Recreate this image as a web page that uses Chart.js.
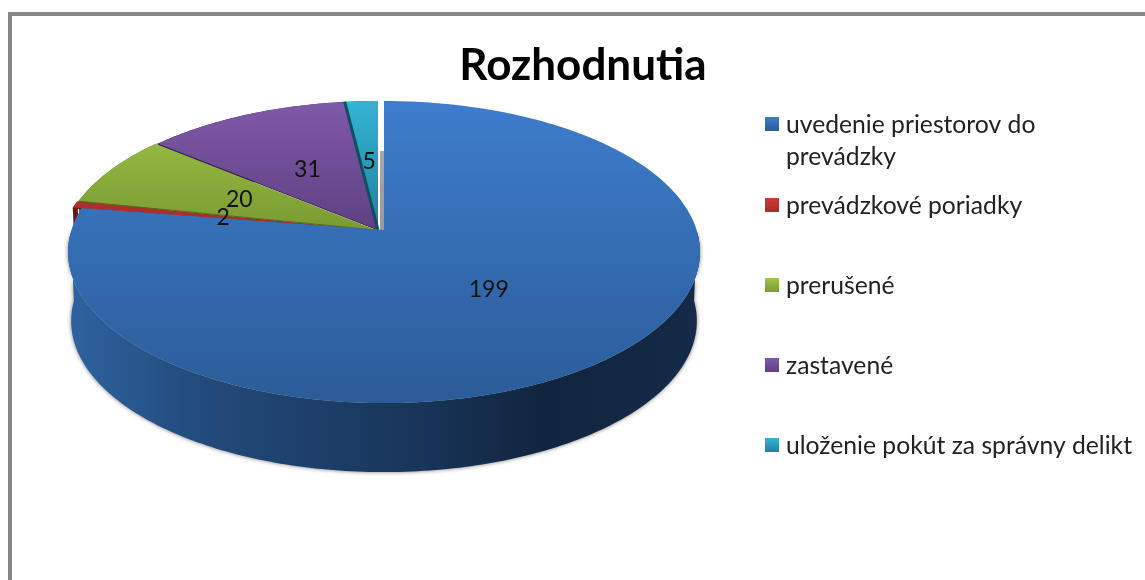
<!DOCTYPE html>
<html lang="sk">
<head>
    <meta charset="UTF-8">
    <title>Rozhodnutia</title>
    <script src="https://cdn.jsdelivr.net/npm/chart.js"></script>
    <style>
        html, body { margin: 0; padding: 0; background: #fff; overflow: hidden; width: 1145px; height: 580px; }
        .frame { position: absolute; left: 8px; top: 12px; width: 1200px; height: 700px; border: 4px solid #868686; }
        canvas { position: absolute; left: 0; top: 0; }
    </style>
</head>
<body>
    <div class="frame"></div>
    <canvas id="chart" width="1166" height="580"></canvas>

    <script>
        // Data
        const categories = [
            ['uvedenie priestorov do', 'prevádzky'],
            ['prevádzkové poriadky'],
            ['prerušené'],
            ['zastavené'],
            ['uloženie pokút za správny delikt']
        ];
        const values = [199, 2, 20, 31, 5];

        // Colours
        const topColors = ['#3e7dcc', '#cf3b39', '#a0c64b', '#8059aa', '#34b4d6'];
        const bottomColors = ['#2b5c98', '#a52c2a', '#7a9a30', '#5f4082', '#20809a'];
        const edgeColors = ['#1c3c66', '#6b1613', '#55691f', '#3a2650', '#0f4f60'];

        // Look of the tilted pie
        const pie = { cx: 381, cy: 230, rx: 312.6, ry: 147.8, k: -0.146, depth: 69 };
        const sliceShift = [3, -6, -5, -3, -3];
        const legendY = [125, 206, 286, 366, 446];
        const font = 'Lato, sans-serif';

        function project(a, r, dx) {
            const u = Math.cos(a) * r, v = Math.sin(a) * r;
            const w = 1 + pie.k * v;
            return { x: pie.cx + dx + pie.rx * u / w, y: pie.cy + pie.ry * v / w };
        }

        function vGradient(ctx, y0, y1, c0, c1) {
            const g = ctx.createLinearGradient(0, y0, 0, y1);
            g.addColorStop(0, c0);
            g.addColorStop(1, c1);
            return g;
        }

        function edgePoints(arc, dx) {
            const pts = [];
            const steps = Math.max(4, Math.ceil((arc.endAngle - arc.startAngle) * 60));
            for (let s = 0; s <= steps; s++) {
                pts.push(project(arc.startAngle + (arc.endAngle - arc.startAngle) * s / steps, 1, dx));
            }
            return pts;
        }

        // Draws the arcs Chart.js laid out as a tilted disc with a side wall
        const tiltedPie = {
            id: 'tiltedPie',
            beforeDatasetDraw(chart) {
                const ctx = chart.ctx;
                const arcs = chart.getDatasetMeta(0).data;
                const order = [1, 2, 3, 4, 0];

                // walls
                arcs.forEach((arc, i) => {
                    let pts = edgePoints(arc, sliceShift[i]);
                    ctx.save();
                    if (i === 0) {
                        // only the front half of the big slice shows
                        pts = pts.filter(p => p.y >= pie.cy);
                        ctx.shadowColor = 'rgba(60,60,60,0.7)';
                        ctx.shadowBlur = 4;
                        const g = ctx.createLinearGradient(70, 0, 700, 0);
                        g.addColorStop(0, '#2e629f');
                        g.addColorStop(0.2, '#234b7c');
                        g.addColorStop(0.55, '#183559');
                        g.addColorStop(0.75, '#11253f');
                        g.addColorStop(1, '#142a48');
                        ctx.fillStyle = g;
                    } else {
                        ctx.fillStyle = edgeColors[i];
                    }
                    ctx.beginPath();
                    pts.forEach((p, n) => n ? ctx.lineTo(p.x, p.y) : ctx.moveTo(p.x, p.y));
                    const mid = 384;
                    pts.slice().reverse().forEach(p => {
                        ctx.lineTo(mid + (p.x - mid) * 0.99, p.y + pie.depth);
                    });
                    ctx.closePath();
                    ctx.fill();
                    ctx.restore();
                });

                // grey strip beside the blue slice
                const stripTop = project(arcs[0].startAngle, 0.58, 0);
                ctx.fillStyle = vGradient(ctx, stripTop.y, pie.cy, '#a8a8a8', '#999999');
                ctx.fillRect(380, stripTop.y, 4, pie.cy + 1 - stripTop.y);

                // top faces
                order.forEach(i => {
                    const arc = arcs[i];
                    const dx = sliceShift[i];
                    const pts = edgePoints(arc, dx);
                    ctx.fillStyle = i === 0
                        ? vGradient(ctx, 100, 403, topColors[i], bottomColors[i])
                        : vGradient(ctx, 100, 232, topColors[i], bottomColors[i]);
                    ctx.beginPath();
                    ctx.moveTo(pie.cx + dx, pie.cy);
                    pts.forEach(p => ctx.lineTo(p.x, p.y));
                    ctx.closePath();
                    ctx.fill();

                    // cut edge on the start side
                    if (i > 0) {
                        ctx.strokeStyle = edgeColors[i];
                        ctx.lineWidth = i === 4 ? 3 : 1;
                        ctx.beginPath();
                        ctx.moveTo(pie.cx + dx, pie.cy);
                        ctx.lineTo(pts[0].x, pts[0].y);
                        ctx.stroke();
                    }
                });

                // values
                ctx.fillStyle = '#111';
                ctx.font = '23px ' + font;
                ctx.textAlign = 'center';
                ctx.textBaseline = 'middle';
                arcs.forEach((arc, i) => {
                    const p = project((arc.startAngle + arc.endAngle) / 2, 0.5, i ? sliceShift[i] : 0);
                    ctx.fillText(values[i], p.x, p.y);
                });
                return false;
            }
        };

        // Legend with the uneven rows of the original
        const sideLegend = {
            id: 'sideLegend',
            afterDraw(chart) {
                const ctx = chart.ctx;
                ctx.save();
                ctx.font = '24.7px ' + font;
                ctx.textAlign = 'left';
                ctx.textBaseline = 'middle';
                categories.forEach((lines, i) => {
                    const y = legendY[i];
                    ctx.fillStyle = vGradient(ctx, y - 8, y + 6, topColors[i], bottomColors[i]);
                    ctx.fillRect(765, y - 8, 14, 14);
                    ctx.fillStyle = '#222';
                    lines.forEach((line, n) => ctx.fillText(line, 786, y + n * 32));
                });
                ctx.restore();
            }
        };

        new Chart(document.getElementById('chart'), {
            type: 'pie',
            data: {
                labels: categories,
                datasets: [{ data: values, backgroundColor: topColors, borderWidth: 0 }]
            },
            options: {
                responsive: false,
                animation: false,
                events: [],
                plugins: {
                    legend: { display: false },
                    tooltip: { enabled: false },
                    title: {
                        display: true,
                        text: 'Rozhodnutia',
                        color: '#000',
                        font: { family: font, size: 44, weight: 'bold' },
                        padding: { top: 39, bottom: 0 }
                    }
                }
            },
            plugins: [tiltedPie, sideLegend]
        });
    </script>
</body>
</html>
